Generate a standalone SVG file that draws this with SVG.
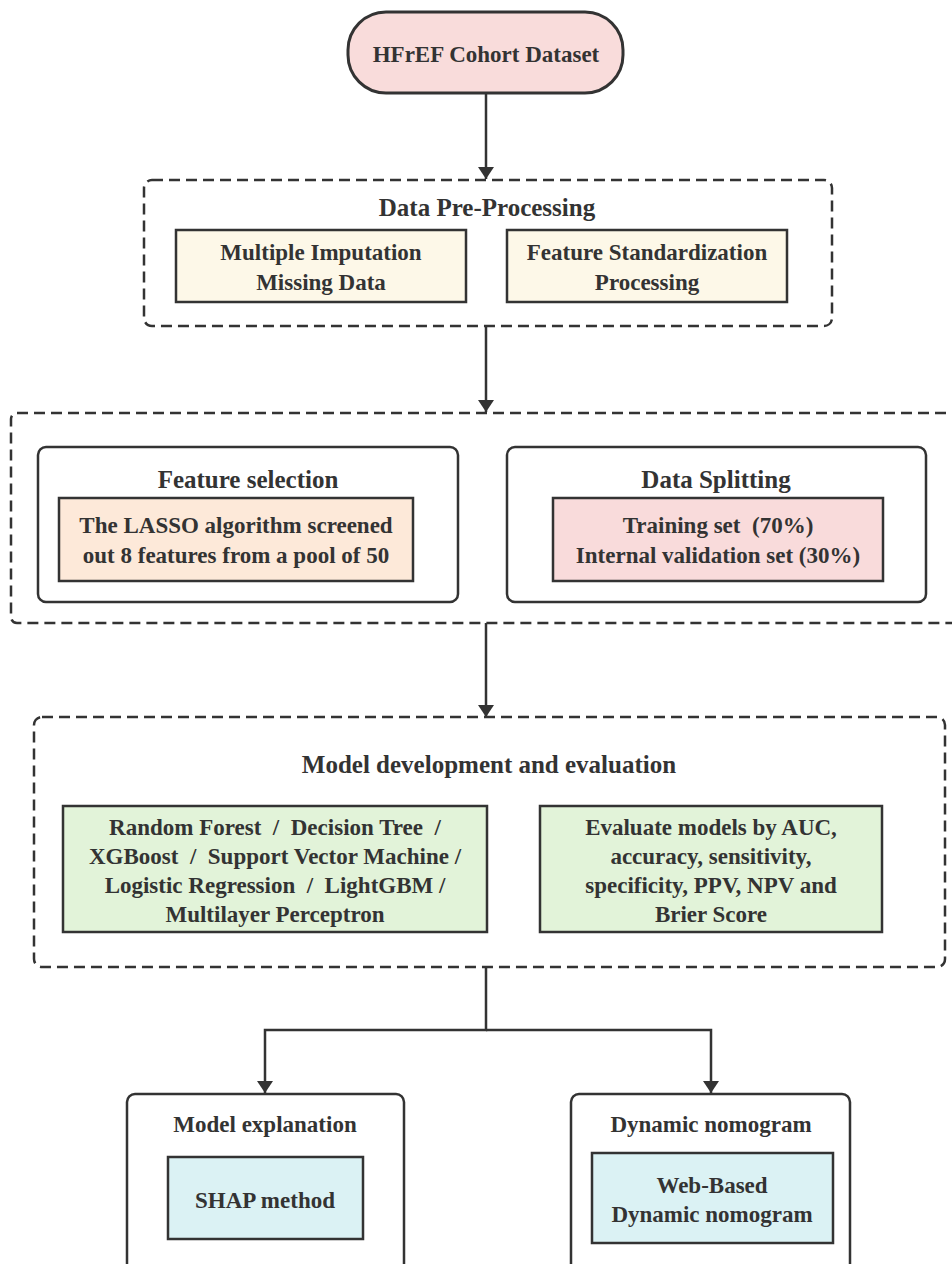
<svg xmlns="http://www.w3.org/2000/svg" width="952" height="1264" viewBox="0 0 952 1264">
<style>
  text { font-family: "Liberation Serif", "Times New Roman", serif; font-weight: bold; fill: #333333; text-anchor: middle; }
  .t23 { font-size: 23px; }
  .t25 { font-size: 25px; }
  .dash { fill: #ffffff; stroke: #333333; stroke-width: 2.5; stroke-dasharray: 11 6; }
  .frame { fill: #ffffff; stroke: #333333; stroke-width: 2.5; }
  .box { stroke: #333333; stroke-width: 2.5; }
  .conn { fill: none; stroke: #333333; stroke-width: 2.5; }
</style>
<defs>
  <marker id="arrow" viewBox="0 0 12 16" refX="12" refY="8" markerWidth="12" markerHeight="16" markerUnits="userSpaceOnUse" orient="auto">
    <path d="M0,0 L12,8 L0,16 Z" fill="#333333"/>
  </marker>
</defs>
<rect width="952" height="1264" fill="#ffffff"/>

<g id="connectors">
  <line class="conn" x1="486" y1="93" x2="486" y2="179" marker-end="url(#arrow)"/>
  <line class="conn" x1="486" y1="326" x2="486" y2="412" marker-end="url(#arrow)"/>
  <line class="conn" x1="486" y1="623" x2="486" y2="717" marker-end="url(#arrow)"/>
  <polyline class="conn" points="486,967 486,1030 265,1030 265,1093" marker-end="url(#arrow)"/>
  <polyline class="conn" points="486,1030 711,1030 711,1093" marker-end="url(#arrow)"/>
</g>

<g id="cohort">
  <rect x="348" y="12" width="275" height="81" rx="38" fill="#f9dcdb" stroke="#333333" stroke-width="3"/>
  <text class="t23" x="486" y="62">HFrEF Cohort Dataset</text>
</g>

<g id="preprocessing">
  <rect class="dash" x="144" y="180" width="688" height="146" rx="8"/>
  <text class="t25" x="487" y="216">Data Pre-Processing</text>
</g>
<g id="imputation">
  <rect class="box" x="176" y="230" width="290" height="72" fill="#fdf8e8"/>
  <text class="t23" x="321" y="260">Multiple Imputation</text>
  <text class="t23" x="321" y="290">Missing Data</text>
</g>
<g id="standardization">
  <rect class="box" x="507" y="230" width="280" height="72" fill="#fdf8e8"/>
  <text class="t23" x="647" y="260">Feature Standardization</text>
  <text class="t23" x="647" y="290">Processing</text>
</g>

<g id="selection-splitting">
  <rect class="dash" x="11" y="413" width="960" height="210" rx="6"/>
</g>
<g id="feature-selection">
  <rect class="frame" x="38" y="447" width="420" height="155" rx="8"/>
  <text class="t25" x="248" y="488">Feature selection</text>
  <rect class="box" x="59" y="498" width="354" height="83" fill="#fde9d9"/>
  <text class="t23" x="236" y="533">The LASSO algorithm screened</text>
  <text class="t23" x="236" y="563">out 8 features from a pool of 50</text>
</g>
<g id="data-splitting">
  <rect class="frame" x="507" y="447" width="419" height="155" rx="8"/>
  <text class="t25" x="716" y="488">Data Splitting</text>
  <rect class="box" x="553" y="498" width="330" height="83" fill="#f9dbdb"/>
  <text class="t23" x="718" y="533" xml:space="preserve">Training set  (70%)</text>
  <text class="t23" x="718" y="563">Internal validation set (30%)</text>
</g>

<g id="model-development">
  <rect class="dash" x="34" y="717" width="911" height="250" rx="8"/>
  <text class="t25" x="489" y="773">Model development and evaluation</text>
</g>
<g id="models">
  <rect class="box" x="63" y="806" width="424" height="126" fill="#e2f3d9"/>
  <text class="t23" x="275" y="835" xml:space="preserve">Random Forest  /  Decision Tree  /</text>
  <text class="t23" x="275" y="864" xml:space="preserve">XGBoost  /  Support Vector Machine /</text>
  <text class="t23" x="275" y="893" xml:space="preserve">Logistic Regression  /  LightGBM /</text>
  <text class="t23" x="275" y="922">Multilayer Perceptron</text>
</g>
<g id="evaluation">
  <rect class="box" x="540" y="806" width="342" height="126" fill="#e2f3d9"/>
  <text class="t23" x="711" y="835">Evaluate models by AUC,</text>
  <text class="t23" x="711" y="864">accuracy, sensitivity,</text>
  <text class="t23" x="711" y="893">specificity, PPV, NPV and</text>
  <text class="t23" x="711" y="922">Brier Score</text>
</g>

<g id="model-explanation">
  <rect class="frame" x="127" y="1094" width="277" height="200" rx="8"/>
  <text class="t23" x="265" y="1132">Model explanation</text>
  <rect class="box" x="168" y="1157" width="195" height="82" fill="#dbf2f4"/>
  <text class="t23" x="265" y="1208">SHAP method</text>
</g>
<g id="dynamic-nomogram">
  <rect class="frame" x="571" y="1094" width="279" height="200" rx="8"/>
  <text class="t23" x="711" y="1132">Dynamic nomogram</text>
  <rect class="box" x="592" y="1153" width="241" height="90" fill="#dbf2f4"/>
  <text class="t23" x="712" y="1193">Web-Based</text>
  <text class="t23" x="712" y="1222">Dynamic nomogram</text>
</g>
</svg>
